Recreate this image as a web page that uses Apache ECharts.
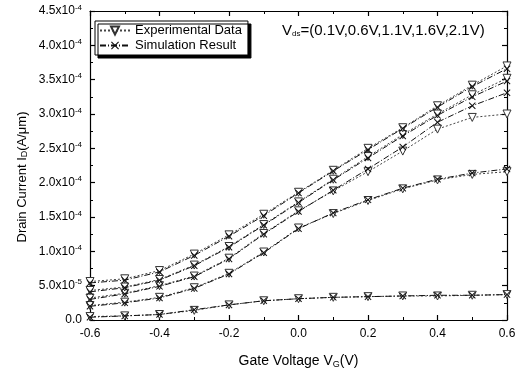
<!DOCTYPE html>
<html>
<head>
<meta charset="utf-8">
<script src="https://cdn.jsdelivr.net/npm/echarts@6/dist/echarts.min.js"></script>
<style>html,body{margin:0;padding:0;background:#fff;}#c{width:519px;height:379px;}</style>
</head>
<body>
<div id="c"></div>
<script>
// Gate voltage (V)
var vg = [-0.6,-0.5,-0.4,-0.3,-0.2,-0.1,0.0,0.1,0.2,0.3,0.4,0.5,0.6];
// Drain current in units of 1e-4 A/um
var exp21 = [0.56,0.60,0.72,0.96,1.24,1.54,1.86,2.18,2.50,2.80,3.12,3.42,3.70];
var sim21 = [0.54,0.58,0.70,0.94,1.22,1.52,1.85,2.17,2.48,2.79,3.10,3.40,3.66];
var exp16 = [0.43,0.48,0.59,0.80,1.07,1.39,1.72,2.05,2.38,2.70,3.00,3.28,3.52];
var sim16 = [0.41,0.47,0.58,0.79,1.06,1.38,1.71,2.04,2.36,2.68,2.98,3.25,3.48];
var exp11 = [0.32,0.39,0.50,0.64,0.90,1.26,1.59,1.88,2.16,2.46,2.78,2.95,3.00];
var sim11 = [0.30,0.38,0.49,0.63,0.89,1.25,1.58,1.89,2.20,2.52,2.88,3.12,3.31];
var exp06 = [0.21,0.26,0.33,0.47,0.68,0.99,1.34,1.55,1.74,1.91,2.04,2.12,2.16];
var sim06 = [0.20,0.25,0.32,0.46,0.67,0.98,1.33,1.56,1.75,1.92,2.05,2.14,2.20];
var exp01 = [0.05,0.06,0.08,0.14,0.22,0.28,0.31,0.33,0.34,0.35,0.35,0.36,0.37];
var sim01 = [0.04,0.06,0.08,0.15,0.22,0.28,0.31,0.33,0.34,0.35,0.36,0.36,0.37];
// Y tick labels (mantissa, exponent)
var yTickMant = ['0.0','5.0','1.0','1.5','2.0','2.5','3.0','3.5','4.0','4.5'];
var yTickExp  = ['',   '-5', '-4', '-4', '-4', '-4', '-4', '-4', '-4', '-4'];
var xTickLabels = ['-0.6','-0.4','-0.2','0.0','0.2','0.4','0.6'];
var legendNames = ['Experimental Data','Simulation Result'];

var FONT = 'Liberation Sans, Arial, sans-serif';
var chart = echarts.init(document.getElementById('c'), null, {renderer:'canvas'});
function pairs(arr){ return vg.map(function(x,i){ return [x, arr[i]]; }); }
var xSym = 'path://M1,0L5,4L9,0L10,1L6,5L10,9L9,10L5,6L1,10L0,9L4,5L0,1Z';
function expSeries(arr){
  return {name: legendNames[0], type:'line', data: pairs(arr), xAxisIndex:0, yAxisIndex:0,
    symbol:'triangle', symbolRotate:180, symbolSize:8, showSymbol:true,
    itemStyle:{color:'#fff', borderColor:'#333', borderWidth:1},
    lineStyle:{color:'#444', width:1, type:[2,2]}, z:3};
}
function simSeries(arr){
  return {name: legendNames[1], type:'line', data: pairs(arr), xAxisIndex:0, yAxisIndex:0,
    symbol:xSym, symbolSize:7, showSymbol:true,
    itemStyle:{color:'#111', borderWidth:0},
    lineStyle:{color:'#111', width:1, type:[6,2,1,2]}, z:4};
}
var axisCommon = {
  axisLine:{show:true, onZero:false, lineStyle:{color:'#000', width:1.2}},
  axisTick:{show:true, inside:true, length:5, lineStyle:{color:'#000', width:1.2}},
  minorTick:{show:true, splitNumber:2, length:3, lineStyle:{color:'#000', width:1}},
  splitLine:{show:false}
};
var option = {
  animation:false,
  backgroundColor:'#fff',
  textStyle:{fontFamily:FONT},
  grid:{left:90, right:12, top:11, bottom:59, containLabel:false},
  legend:{
    data: legendNames, orient:'vertical', left:95, top:21,
    itemWidth:30, itemHeight:10, itemGap:2,
    borderColor:'#000', borderWidth:1, padding:[3,6,3,4],
    backgroundColor:'#fff',
    shadowColor:'#000', shadowOffsetX:3, shadowOffsetY:3, shadowBlur:0,
    textStyle:{fontFamily:FONT, fontSize:13, color:'#000'}
  },
  xAxis:[
    Object.assign({type:'value', position:'bottom', min:-0.6, max:0.6, interval:0.2,
      axisLabel:{show:true, margin:8, color:'#000', fontSize:12, fontFamily:FONT,
        formatter:function(v){ var i = Math.round((v+0.6)/0.2); return xTickLabels[i]; }},
      name:'{a|Gate Voltage V}{s|G}{a|(V)}', nameLocation:'middle', nameGap:33,
      nameTextStyle:{rich:{a:{fontSize:14, fontFamily:FONT, color:'#000'}, s:{fontSize:9, fontFamily:FONT, color:'#000', padding:[7,0,0,0]}}}
    }, axisCommon),
    Object.assign({type:'value', position:'top', min:-0.6, max:0.6, interval:0.2, axisLabel:{show:false}}, axisCommon)
  ],
  yAxis:[
    Object.assign({type:'value', position:'left', min:0, max:4.5, interval:0.5,
      axisLabel:{show:true, margin:8, color:'#000', fontSize:12, fontFamily:FONT,
        formatter:function(v){ var i = Math.round(v/0.5); if(!yTickExp[i]) return '{m|'+yTickMant[i]+'}'; return '{m|'+yTickMant[i]+'x10}{s|'+yTickExp[i]+'}'; },
        rich:{m:{fontSize:12, fontFamily:FONT, color:'#000'}, s:{fontSize:8, fontFamily:FONT, color:'#000', padding:[0,0,7,0]}}}
    }, axisCommon),
    Object.assign({type:'value', position:'right', min:0, max:4.5, interval:0.5, axisLabel:{show:false}}, axisCommon)
  ],
  graphic:[{
    type:'text', left:282, top:23,
    style:{text:'{a|V}{s|ds}{a|=(0.1V,0.6V,1.1V,1.6V,2.1V)}',
      rich:{a:{fontSize:15, fontFamily:FONT, fill:'#000'}, s:{fontSize:8, fontFamily:FONT, fill:'#000', padding:[7,0,0,0]}}}
  },{
    type:'text', x:22, y:177, rotation:Math.PI/2,
    style:{text:'{a|Drain Current I}{s|D}{a|(A/\u03bcm)}', align:'center', verticalAlign:'middle',
      rich:{a:{fontSize:13, fontFamily:FONT, fill:'#000'}, s:{fontSize:9, fontFamily:FONT, fill:'#000', padding:[6,0,0,0]}}}
  }],
  series:[
    expSeries(exp01), simSeries(sim01),
    expSeries(exp06), simSeries(sim06),
    expSeries(exp11), simSeries(sim11),
    expSeries(exp16), simSeries(sim16),
    expSeries(exp21), simSeries(sim21)
  ]
};
chart.setOption(option);
</script>
</body>
</html>
